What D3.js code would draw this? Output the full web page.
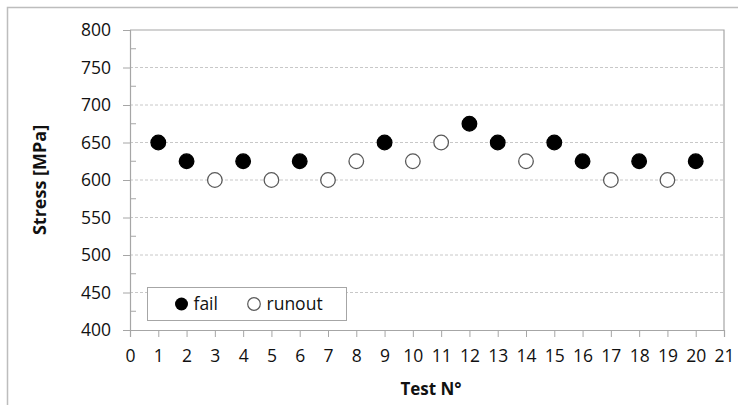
<!DOCTYPE html>
<html>
<head>
<meta charset="utf-8">
<script src="https://cdn.jsdelivr.net/npm/d3@7"></script>
<style>
  body { margin: 0; background: #fff; }
  text { font-family: "Open Sans", "Liberation Sans", sans-serif; fill: #111; }
</style>
</head>
<body>
<script>
// Data
var tests = [1, 2, 3, 4, 5, 6, 7, 8, 9, 10, 11, 12, 13, 14, 15, 16, 17, 18, 19, 20];
var stress = [650, 625, 600, 625, 600, 625, 600, 625, 650, 625, 650, 675, 650, 625, 650, 625, 600, 625, 600, 625];
var outcome = ["fail", "fail", "runout", "fail", "runout", "fail", "runout", "runout", "fail", "runout",
               "runout", "fail", "fail", "runout", "fail", "fail", "runout", "fail", "runout", "fail"];
var yTicks = [400, 450, 500, 550, 600, 650, 700, 750, 800];
var yMinor = [425, 475, 525, 575, 625, 675, 725, 775];
var xTicks = d3.range(0, 22);

var svgWidth = 738;
var svgHeight = 405;
var margin = { top: 30, right: 14, bottom: 75, left: 130 };
var width = svgWidth - margin.left - margin.right;
var height = svgHeight - margin.top - margin.bottom;

var svg = d3.select("body").append("svg")
  .attr("width", svgWidth)
  .attr("height", svgHeight);

// outer frame
svg.append("rect")
  .attr("x", 7.5).attr("y", 7.5)
  .attr("width", 760).attr("height", 420)
  .attr("fill", "none")
  .attr("stroke", "#bdbdbd")
  .attr("stroke-width", 1.5);

var chartGroup = svg.append("g")
  .attr("transform", `translate(${margin.left}, ${margin.top})`);

var x = d3.scaleLinear().domain([0, 21]).range([0, width]);
var y = d3.scaleLinear().domain([400, 800]).range([height, 0]);

// gridlines
chartGroup.selectAll(".grid")
  .data(yTicks.filter(d => d > 400 && d < 800))
  .enter().append("line")
  .attr("x1", 0).attr("x2", width)
  .attr("y1", d => y(d)).attr("y2", d => y(d))
  .attr("stroke", "#c8c8c8")
  .attr("stroke-dasharray", "3,2");

// top and right border of plot
chartGroup.append("path")
  .attr("d", `M0,${y(800)}H${width}V${height}`)
  .attr("fill", "none")
  .attr("stroke", "#a6a6a6")
  .attr("stroke-width", 1.2);

// y axis
var leftAxis = d3.axisLeft(y).tickValues(yTicks).tickSize(7).tickPadding(12);
var yAxis = chartGroup.append("g").call(leftAxis);
yAxis.selectAll("text").style("font-size", "17.5px");

chartGroup.selectAll(".minor")
  .data(yMinor)
  .enter().append("line")
  .attr("x1", 0).attr("x2", 6)
  .attr("y1", d => y(d)).attr("y2", d => y(d))
  .attr("stroke", "#a6a6a6");

// x axis
var bottomAxis = d3.axisBottom(x).tickValues(xTicks).tickSize(7).tickPadding(13);
var xAxis = chartGroup.append("g")
  .attr("transform", `translate(0, ${height})`)
  .call(bottomAxis);
xAxis.selectAll("text").style("font-size", "17.5px");

[yAxis, xAxis].forEach(function(a) {
  a.select(".domain").attr("stroke", "#a6a6a6").attr("stroke-width", 1.2);
  a.selectAll(".tick line").attr("stroke", "#a6a6a6");
  a.selectAll("text").attr("fill", "#111");
});

// points
chartGroup.selectAll("circle.pt")
  .data(tests)
  .enter().append("circle")
  .attr("class", "pt")
  .attr("cx", d => x(d))
  .attr("cy", (d, i) => y(stress[i]))
  .attr("r", 7.3)
  .attr("fill", (d, i) => outcome[i] === "fail" ? "#000" : "#fff")
  .attr("stroke", (d, i) => outcome[i] === "fail" ? "#000" : "#595959")
  .attr("stroke-width", 1.3);

// legend
var legend = chartGroup.append("g")
  .attr("transform", `translate(${147.5 - margin.left}, ${287.5 - margin.top})`);
legend.append("rect")
  .attr("width", 199).attr("height", 33)
  .attr("fill", "#fff")
  .attr("stroke", "#a6a6a6");
legend.append("circle").attr("cx", 34).attr("cy", 16.5).attr("r", 6.5).attr("fill", "#000");
legend.append("text").attr("x", 46).attr("y", 16.5).attr("dy", "0.35em")
  .style("font-size", "17.5px").text("fail");
legend.append("circle").attr("cx", 106.5).attr("cy", 16.5).attr("r", 6.3)
  .attr("fill", "#fff").attr("stroke", "#595959").attr("stroke-width", 1.2);
legend.append("text").attr("x", 119).attr("y", 16.5).attr("dy", "0.35em")
  .style("font-size", "17.5px").text("runout");

// axis titles
chartGroup.append("text")
  .attr("transform", `translate(${40 - margin.left}, ${180 - margin.top}) rotate(-90)`)
  .attr("text-anchor", "middle")
  .attr("dy", "0.35em")
  .style("font-size", "18px")
  .style("font-weight", "bold")
  .text("Stress [MPa]");

chartGroup.append("text")
  .attr("transform", `translate(${431 - margin.left}, ${389 - margin.top})`)
  .attr("text-anchor", "middle")
  .attr("dy", "0.35em")
  .style("font-size", "17px")
  .style("font-weight", "bold")
  .text("Test N°");
</script>
</body>
</html>
